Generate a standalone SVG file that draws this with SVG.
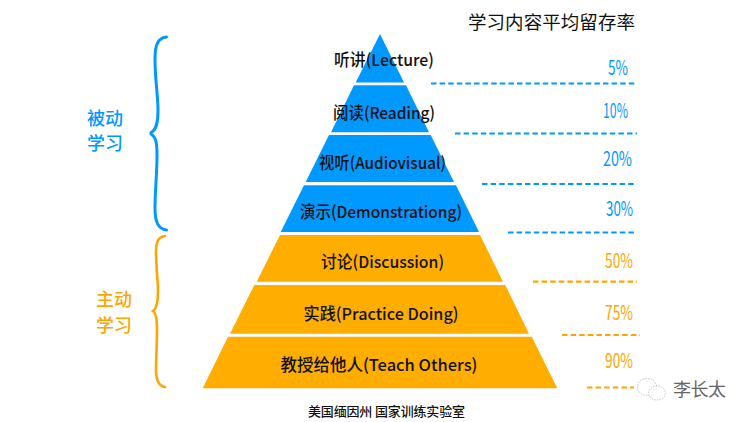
<svg xmlns="http://www.w3.org/2000/svg" width="750" height="422" viewBox="0 0 750 422">
<style>
text{font-family:"Noto Sans CJK SC","Noto Sans",sans-serif;fill:#111}
.blue{fill:#0099ff}.orange{fill:#ffae00}
.lb{font-size:16.500px;font-weight:500;text-anchor:middle}
.pb{font-size:20px;fill:#0099ff}
.po{font-size:20px;fill:#ffa500}
.sideb{font-size:18px;font-weight:500;fill:#0099ff}
.sideo{font-size:18px;font-weight:500;fill:#ffa500}
.db{stroke:#0099ff;stroke-width:2.200;stroke-dasharray:5.500 3.100;fill:none}
.do{stroke:#ffa500;stroke-width:2.200;stroke-dasharray:5.500 3.100;fill:none}
.bb{stroke:#0099ff;stroke-width:3;fill:none;stroke-linecap:round}
.bo{stroke:#ffa500;stroke-width:2.600;fill:none;stroke-linecap:round}
</style>
<rect width="750" height="422" fill="#fff"/>
<g id="connectors">
<path class="db" d="M431 83.500H637"/>
<path class="db" d="M455 133.500H637"/>
<path class="db" d="M482 184H637"/>
<path class="db" d="M508 232.500H637"/>
<path class="do" d="M533 281.700H637"/>
<path class="do" d="M562 335H640"/>
<path class="do" d="M587 387.500H634"/>
</g>
<g id="brace-passive">
<path class="bb" d="M166.500 37C157 38 155 46 155 60C155 80 158 95 158 110C158 124 156 130 151 132.500"/>
<path class="bb" d="M151 134C156 137 157 143 157 155C157 175 155 190 155 208C155 222 158 229 166.500 230"/>
<text class="sideb" x="87" y="125">被动</text>
<text class="sideb" x="87" y="150">学习</text>
</g>
<g id="brace-active">
<path class="bo" d="M165 236C158 237 156 242 156 252C156 268 158 280 158 292C158 304 156 309 153 311C156 313 157 318 157 328C157 345 156 358 156 370C156 381 159 386 165 387"/>
<text class="sideo" x="96" y="306">主动</text>
<text class="sideo" x="96" y="332">学习</text>
</g>
<g id="layer-lecture">
<path class="blue" d="M380 34L404 82.500H355.700Z"/>
<text class="lb" x="384" y="66" textLength="100" lengthAdjust="spacingAndGlyphs">听讲(Lecture)</text>
<text class="pb" x="608" y="75" textLength="20" lengthAdjust="spacingAndGlyphs">5%</text>
</g>
<g id="layer-reading">
<path class="blue" d="M354 85.300H406L429 132.300H331Z"/>
<text class="lb" x="384" y="119" textLength="102" lengthAdjust="spacingAndGlyphs">阅读(Reading)</text>
<text class="pb" x="603" y="118" textLength="25" lengthAdjust="spacingAndGlyphs">10%</text>
</g>
<g id="layer-audiovisual">
<path class="blue" d="M329 135H430.700L454 182H305.700Z"/>
<text class="lb" x="382.500" y="169" textLength="127" lengthAdjust="spacingAndGlyphs">视听(Audiovisual)</text>
<text class="pb" x="603" y="166" textLength="29" lengthAdjust="spacingAndGlyphs">20%</text>
</g>
<g id="layer-demonstration">
<path class="blue" d="M304 185.300H456L479 232H280.700Z"/>
<text class="lb" x="381" y="218" textLength="162" lengthAdjust="spacingAndGlyphs">演示(Demonstrationg)</text>
<text class="pb" x="606" y="216" textLength="27" lengthAdjust="spacingAndGlyphs">30%</text>
</g>
<g id="layer-discussion">
<path class="orange" d="M280 235H480L503 281.700H256.700Z"/>
<text class="lb" x="382.500" y="268" textLength="123" lengthAdjust="spacingAndGlyphs">讨论(Discussion)</text>
<text class="po" x="605" y="268" textLength="28" lengthAdjust="spacingAndGlyphs">50%</text>
</g>
<g id="layer-practice">
<path class="orange" d="M254.300 285H505.300L529 333.700H230Z"/>
<text class="lb" x="381" y="320" textLength="155" lengthAdjust="spacingAndGlyphs">实践(Practice Doing)</text>
<text class="po" x="605" y="320" textLength="28" lengthAdjust="spacingAndGlyphs">75%</text>
</g>
<g id="layer-teach">
<path class="orange" d="M228 336.700H531.700L557.300 388.300H202.700Z"/>
<text class="lb" x="379" y="371" textLength="197" lengthAdjust="spacingAndGlyphs">教授给他人(Teach Others)</text>
<text class="po" x="605" y="368" textLength="28" lengthAdjust="spacingAndGlyphs">90%</text>
</g>
<g id="title">
<text x="468" y="29" font-size="18.500" textLength="167">学习内容平均留存率</text>
</g>
<g id="caption">
<text x="308" y="415.500" font-size="13" font-weight="500" textLength="157">美国缅因州 国家训练实验室</text>
</g>
<g id="watermark">
<ellipse cx="647" cy="387" rx="9.500" ry="8.500" fill="none" stroke="#aaa" stroke-width="0.700" stroke-dasharray="1.500 1.200"/>
<ellipse cx="657" cy="393" rx="8.500" ry="7" fill="#fff" stroke="#aaa" stroke-width="0.700" stroke-dasharray="1.500 1.200"/>
<text x="673" y="396" font-size="18" textLength="53" style="fill:#666">李长太</text>
</g>
</svg>
